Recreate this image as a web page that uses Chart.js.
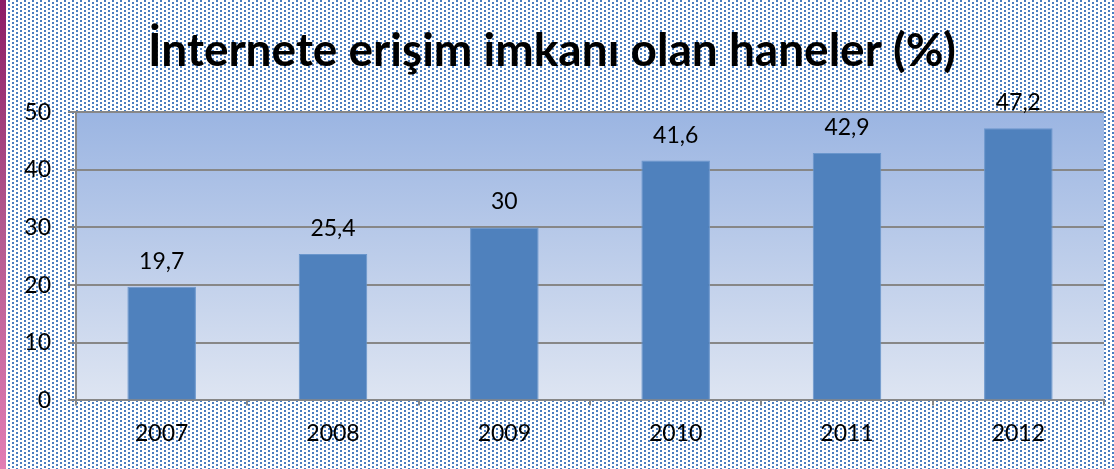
<!DOCTYPE html>
<html>
<head>
<meta charset="utf-8">
<script src="https://cdn.jsdelivr.net/npm/chart.js@4.4.1/dist/chart.umd.min.js"></script>
<style>
  html, body { margin: 0; padding: 0; background: #fff; }
  #wrap { width: 1114px; height: 469px; position: relative; }
</style>
</head>
<body>
<div id="wrap"><canvas id="chart" width="1114" height="469"></canvas></div>
<script>
const years = ['2007', '2008', '2009', '2010', '2011', '2012'];
const households = [19.7, 25.4, 30, 41.6, 42.9, 47.2];
const yTicks = [0, 10, 20, 30, 40, 50];
const chartTitle = 'İnternete erişim imkanı olan haneler (%)';

const fontFamily = 'Lato, "Liberation Sans", sans-serif';
const gridGray = '#878787';

// 8x4 tile, staggered 2px dots like the slide's dotted fill
const makeDots = () => {
    const tile = document.createElement('canvas');
    tile.width = 8;
    tile.height = 4;
    const c = tile.getContext('2d');
    c.fillStyle = '#fff';
    c.fillRect(0, 0, 8, 4);
    c.fillStyle = '#4a7dc0';
    c.fillRect(0, 0, 2, 2);
    c.fillRect(4, 2, 2, 2);
    return tile;
};

const backdrop = {
    id: 'backdrop',
    beforeDraw(chart) {
        const { ctx, chartArea: a, width, height } = chart;
        ctx.save();
        ctx.fillStyle = ctx.createPattern(makeDots(), 'repeat');
        ctx.fillRect(0, 0, width, height);
        const strip = ctx.createLinearGradient(0, 0, 0, height);
        strip.addColorStop(0, '#8d1d66');
        strip.addColorStop(0.5, '#b45a90');
        strip.addColorStop(1, '#e27db4');
        ctx.fillStyle = strip;
        ctx.fillRect(0, 0, 6, height);
        const g = ctx.createLinearGradient(0, a.top, 0, a.bottom);
        g.addColorStop(0, '#9bb5e2');
        g.addColorStop(1, '#dee5f2');
        ctx.fillStyle = g;
        ctx.fillRect(a.left, a.top, a.right - a.left, a.bottom - a.top);
        ctx.restore();
    }
};

const barLabels = {
    id: 'barLabels',
    afterDatasetsDraw(chart) {
        const { ctx } = chart;
        const meta = chart.getDatasetMeta(0);
        ctx.save();
        ctx.font = '23px ' + fontFamily;
        ctx.fillStyle = '#000';
        ctx.textAlign = 'center';
        ctx.textBaseline = 'bottom';
        meta.data.forEach((bar, i) => {
            ctx.fillText(String(households[i]).replace('.', ','), bar.x, bar.y - 14);
        });
        ctx.restore();
    }
};

new Chart(document.getElementById('chart'), {
    type: 'bar',
    data: {
        labels: years,
        datasets: [{
            data: households,
            backgroundColor: '#4f81bd',
            borderColor: '#6a96cc',
            borderWidth: 1,
            categoryPercentage: 1,
            barPercentage: 0.4
        }]
    },
    options: {
        responsive: false,
        animation: false,
        layout: { padding: { left: 0, right: 10, top: 0, bottom: 8 } },
        plugins: {
            legend: { display: false },
            tooltip: { enabled: false },
            title: {
                display: true,
                text: chartTitle,
                color: '#000',
                font: { family: fontFamily, size: 46, weight: 'bold' },
                padding: { top: 24, bottom: 33 }
            }
        },
        scales: {
            x: {
                grid: {
                    offset: true,
                    drawOnChartArea: false,
                    color: gridGray,
                    lineWidth: 2,
                    tickLength: 5
                },
                border: { color: gridGray, width: 2 },
                ticks: { color: '#000', font: { family: fontFamily, size: 23 }, padding: 14 }
            },
            y: {
                min: 0,
                max: 50,
                afterBuildTicks: axis => { axis.ticks = yTicks.map(v => ({ value: v })); },
                afterFit: axis => { axis.width = 76; },
                grid: { color: gridGray, lineWidth: 2, tickLength: 8 },
                border: { color: gridGray, width: 2 },
                ticks: { color: '#000', font: { family: fontFamily, size: 23 }, padding: 17 }
            }
        }
    },
    plugins: [backdrop, barLabels]
});
</script>
</body>
</html>
